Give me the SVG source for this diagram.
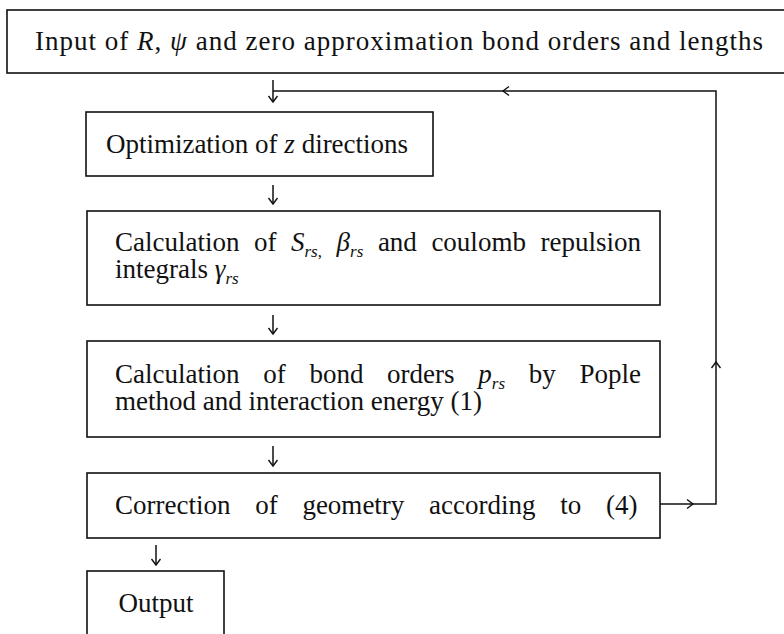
<svg xmlns="http://www.w3.org/2000/svg" width="784" height="634" viewBox="0 0 784 634">
<style>
  .box { fill: #ffffff; stroke: #111111; stroke-width: 1.6; }
  .t { font-family: 'Liberation Serif', 'Times New Roman', serif; font-size: 27px; fill: #111111; }
  .i { font-style: italic; }
  .sub { font-style: italic; font-size: 17px; }
  .line { fill: none; stroke: #111111; stroke-width: 1.5; }
  .head { fill: none; stroke: #111111; stroke-width: 1.4; }
</style>
<defs>
  <marker id="arr" viewBox="-8 -6 10 12" markerWidth="10" markerHeight="12" refX="0" refY="0" orient="auto" markerUnits="userSpaceOnUse">
    <path d="M-6,-4.5 L0,0 L-6,4.5" fill="none" stroke="#111111" stroke-width="1.4"/>
  </marker>
</defs>
<rect width="784" height="634" fill="#ffffff"/>

<g id="input">
  <rect class="box" x="7" y="10" width="779" height="63"/>
  <text class="t" x="35" y="49.5" font-size="29" textLength="728" lengthAdjust="spacing">Input of <tspan class="i">R</tspan>, <tspan class="i">ψ</tspan> and zero approximation bond orders and lengths</text>
</g>

<g id="optimization">
  <rect class="box" x="86" y="112" width="347" height="64"/>
  <text class="t" x="257" y="153" text-anchor="middle">Optimization of <tspan class="i">z</tspan> directions</text>
</g>

<g id="calc-s">
  <rect class="box" x="87" y="211" width="573" height="94"/>
  <text class="t" y="251"><tspan x="115">Calculation</tspan><tspan x="254">of</tspan><tspan x="291" class="i">S</tspan><tspan class="sub" dy="6">rs</tspan><tspan font-size="17" font-style="normal">,</tspan><tspan x="336.6" dy="-6" class="i">β</tspan><tspan class="sub" dy="6">rs</tspan><tspan x="377.9" dy="-6">and</tspan><tspan x="431.4">coulomb</tspan><tspan x="641" text-anchor="end">repulsion</tspan></text>
  <text class="t" x="115" y="278">integrals <tspan class="i">γ</tspan><tspan class="sub" dy="6">rs</tspan></text>
</g>

<g id="calc-bond">
  <rect class="box" x="87" y="341" width="573" height="96"/>
  <text class="t" y="383"><tspan x="115">Calculation</tspan><tspan x="263.2">of</tspan><tspan x="309.4">bond</tspan><tspan x="387.1">orders</tspan><tspan x="478.3" class="i">p</tspan><tspan class="sub" dy="6">rs</tspan><tspan x="528.7" dy="-6">by</tspan><tspan x="641" text-anchor="end">Pople</tspan></text>
  <text class="t" x="115" y="410">method and interaction energy (1)</text>
</g>

<g id="correction">
  <rect class="box" x="87" y="473" width="573" height="65"/>
  <text class="t" y="514"><tspan x="115">Correction</tspan><tspan x="255.2">of</tspan><tspan x="302.4">geometry</tspan><tspan x="429.1">according</tspan><tspan x="560.3">to</tspan><tspan x="637.5" text-anchor="end">(4)</tspan></text>
</g>

<g id="output">
  <rect class="box" x="87" y="571" width="137" height="80"/>
  <text class="t" x="156" y="612" text-anchor="middle">Output</text>
</g>

<g id="connectors">
  <path class="line" d="M273,80 L273,102" marker-end="url(#arr)"/>
  <path class="line" d="M273,185 L273,204" marker-end="url(#arr)"/>
  <path class="line" d="M273,315 L273,334" marker-end="url(#arr)"/>
  <path class="line" d="M273,446 L273,466" marker-end="url(#arr)"/>
  <path class="line" d="M156,545 L156,565" marker-end="url(#arr)"/>
  <path class="line" d="M660,504 L716,504 L716,91 L273,91"/>
  <path class="head" d="M687,499.5 L693,504 L687,508.5"/>
  <path class="head" d="M711.5,368 L716,362 L720.5,368"/>
  <path class="head" d="M509,86.5 L503,91 L509,95.5"/>
</g>
</svg>
